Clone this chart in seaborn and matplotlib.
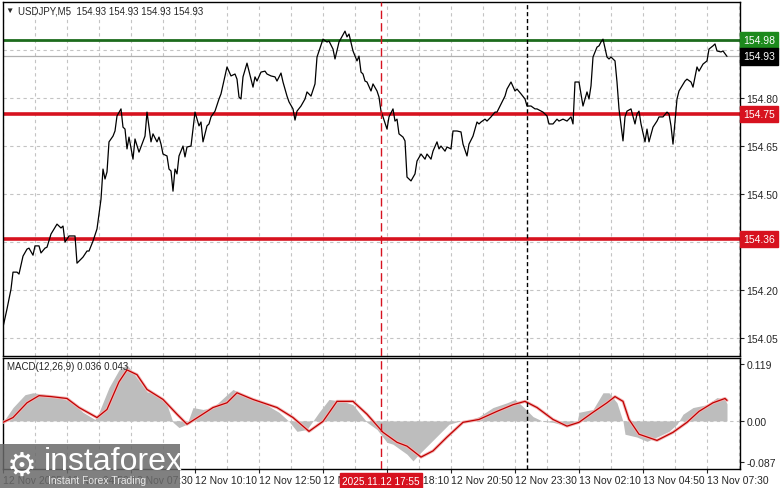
import matplotlib
matplotlib.use("Agg")
import matplotlib.pyplot as plt
import matplotlib.transforms as mtransforms
from matplotlib.patches import Rectangle
import seaborn as sns

# ---- data (x = 5-minute bar number from 12 Nov 02:10) ----
price_bar = [0, 2, 4, 5, 7, 8, 10, 12, 13, 15, 16, 18, 19, 21, 22, 24, 27, 29, 30, 31,
             33, 36, 37, 40, 42, 43, 45, 47, 48, 49, 50, 51, 52, 53, 55, 56, 57, 59, 60, 61,
             62, 63, 65, 66, 68, 71, 72, 74, 75, 77, 78, 79, 80, 82, 83, 84, 85, 86, 87, 88,
             90, 91, 92, 94, 95, 96, 98, 99, 100, 102, 103, 104, 106, 108, 109, 111, 112, 114, 116, 117,
             118, 119, 120, 122, 123, 125, 126, 127, 129, 131, 132, 134, 136, 137, 139, 140, 142, 143, 145, 146,
             147, 149, 151, 152, 154, 156, 157, 160, 162, 163, 165, 166, 168, 171, 172, 173, 175, 177, 178, 179,
             180, 181, 182, 184, 185, 187, 188, 189, 190, 192, 193, 195, 196, 197, 198, 200, 201, 202, 204, 206,
             207, 209, 211, 212, 214, 215, 217, 218, 219, 221, 222, 224, 225, 227, 229, 230, 232, 233, 235, 237,
             238, 239, 241, 242, 244, 246, 247, 249, 251, 252, 254, 256, 257, 259, 261, 262, 264, 266, 267, 270,
             272, 273, 275, 277, 278, 280, 282, 284, 285, 286, 288, 289, 290, 292, 293, 294, 295, 297, 298, 299,
             300, 302, 303, 304, 306, 307, 308, 310, 311, 312, 314, 316, 317, 318, 319, 321, 322, 323, 325, 327,
             328, 330, 332, 333, 334, 335, 337, 338, 341, 342, 344, 345, 347, 348, 350, 352, 353, 355, 356, 357,
             359, 360, 362]
price = [154.084, 154.141, 154.203, 154.256, 154.256, 154.250, 154.306, 154.328, 154.331, 154.309,
         154.338, 154.338, 154.316, 154.331, 154.334, 154.375, 154.406, 154.394, 154.400, 154.350,
         154.369, 154.369, 154.284, 154.303, 154.322, 154.322, 154.353, 154.391, 154.438, 154.484,
         154.578, 154.547, 154.569, 154.663, 154.681, 154.697, 154.744, 154.766, 154.709, 154.703,
         154.641, 154.678, 154.609, 154.672, 154.631, 154.681, 154.756, 154.663, 154.688, 154.663,
         154.678, 154.656, 154.625, 154.619, 154.578, 154.572, 154.509, 154.578, 154.563, 154.619,
         154.650, 154.616, 154.647, 154.650, 154.703, 154.756, 154.713, 154.725, 154.663, 154.713,
         154.719, 154.741, 154.759, 154.797, 154.813, 154.869, 154.897, 154.869, 154.875, 154.859,
         154.803, 154.797, 154.866, 154.909, 154.884, 154.834, 154.866, 154.853, 154.881, 154.884,
         154.875, 154.869, 154.866, 154.853, 154.878, 154.850, 154.806, 154.788, 154.766, 154.731,
         154.759, 154.775, 154.797, 154.819, 154.806, 154.844, 154.928, 154.984, 154.975, 154.978,
         154.953, 154.922, 154.975, 155.009, 154.991, 155.000, 154.947, 154.916, 154.931, 154.881,
         154.875, 154.853, 154.850, 154.822, 154.844, 154.822, 154.803, 154.759, 154.741, 154.703,
         154.741, 154.766, 154.728, 154.734, 154.688, 154.678, 154.666, 154.553, 154.541, 154.563,
         154.603, 154.625, 154.609, 154.625, 154.609, 154.634, 154.663, 154.641, 154.650, 154.634,
         154.647, 154.641, 154.697, 154.697, 154.694, 154.656, 154.619, 154.656, 154.681, 154.725,
         154.719, 154.725, 154.734, 154.728, 154.741, 154.756, 154.756, 154.781, 154.806, 154.828,
         154.850, 154.822, 154.828, 154.813, 154.797, 154.775, 154.775, 154.766, 154.766, 154.756,
         154.744, 154.719, 154.719, 154.734, 154.728, 154.734, 154.728, 154.741, 154.719, 154.850,
         154.850, 154.813, 154.775, 154.819, 154.797, 154.838, 154.928, 154.959, 154.963, 154.975,
         154.984, 154.928, 154.922, 154.928, 154.916, 154.850, 154.766, 154.666, 154.741, 154.759,
         154.766, 154.719, 154.750, 154.759, 154.719, 154.663, 154.703, 154.663, 154.709, 154.728,
         154.741, 154.741, 154.756, 154.750, 154.713, 154.656, 154.797, 154.822, 154.853, 154.859,
         154.850, 154.834, 154.897, 154.884, 154.906, 154.916, 154.953, 154.963, 154.969, 154.947,
         154.944, 154.947, 154.930]

macd_bar = [0, 5, 11, 15, 22, 28, 34, 40, 46, 48, 53, 58, 62, 67, 72, 77, 82, 85, 88, 92,
            95, 100, 105, 112, 115, 120, 130, 138, 143, 147, 152, 158, 163, 170, 175, 178, 182, 187, 192, 195,
            202, 205, 208, 213, 218, 223, 228, 234, 238, 245, 252, 256, 260, 265, 270, 275, 282, 287, 288, 295,
            300, 303, 307, 310, 311, 317, 322, 328, 333, 337, 340, 345, 352, 357, 361, 362]
macd = [-0.003, 0.028, 0.055, 0.059, 0.055, 0.049, 0.041, 0.018, 0.003, 0.018,
        0.070, 0.107, 0.118, 0.090, 0.061, 0.055, 0.034, -0.003, -0.014, -0.007,
        0.028, 0.024, 0.028, 0.055, 0.066, 0.055, 0.038, 0.018, -0.001, -0.022,
        -0.018, 0.018, 0.045, 0.041, 0.034, 0.018, -0.003, -0.018, -0.045, -0.049,
        -0.070, -0.084, -0.070, -0.049, -0.028, -0.007, -0.001, 0.003, 0.009, 0.028,
        0.038, 0.045, 0.030, 0.009, -0.001, -0.003, -0.011, -0.003, 0.018, 0.024,
        0.059, 0.059, 0.038, -0.001, -0.028, -0.034, -0.043, -0.032, -0.022, -0.007,
        0.014, 0.028, 0.034, 0.049, 0.045, 0.036]

signal_bar = [0, 5, 12, 18, 24, 32, 38, 47, 52, 58, 62, 67, 72, 80, 87, 92, 98, 105, 112, 117,
              125, 137, 145, 153, 160, 167, 175, 182, 190, 197, 202, 209, 215, 222, 230, 238, 247, 255, 261, 267,
              275, 282, 288, 295, 302, 306, 310, 313, 318, 327, 335, 342, 348, 355, 361, 362]
signal = [-0.003, 0.007, 0.038, 0.053, 0.051, 0.047, 0.028, 0.007, 0.024, 0.082,
          0.107, 0.097, 0.066, 0.045, 0.014, -0.007, 0.009, 0.028, 0.038, 0.059,
          0.045, 0.028, 0.007, -0.022, -0.001, 0.041, 0.041, 0.014, -0.024, -0.045,
          -0.053, -0.076, -0.063, -0.034, -0.003, 0.003, 0.020, 0.034, 0.041, 0.028,
          0.003, -0.011, -0.003, 0.018, 0.038, 0.051, 0.041, 0.003, -0.028, -0.041,
          -0.024, -0.003, 0.020, 0.038, 0.047, 0.043]

time_ticks = [0, 32, 64, 96, 128, 160, 192, 224, 256, 288, 320, 352]
time_labels = ["12 Nov 2025", "12 Nov 04:50", "12 Nov 07:30", "12 Nov 10:10", "12 Nov 12:50",
               "12 Nov 15:30", "12 Nov 18:10", "12 Nov 20:50", "12 Nov 23:30", "13 Nov 02:10",
               "13 Nov 04:50", "13 Nov 07:30"]
price_ticks = [154.05, 154.20, 154.35, 154.50, 154.65, 154.80, 154.95]
macd_ticks = [0.119, 0.0, -0.087]
macd_tick_labels = ["0.119", "0.00", "-0.087"]

resistance = 154.98
levels_red = [154.75, 154.36]
last_price = 154.93
marker_bar = 189          # 2025.11.12 17:55
separator_bar = 262       # 13 Nov 00:00

sns.set_style("white")
plt.rcParams['font.family'] = ['Liberation Sans', 'DejaVu Sans']
plt.rcParams['font.size'] = 7.5

W, H = 781, 489
fig = plt.figure(figsize=(W / 100, H / 100), dpi=100)
fig.patch.set_facecolor("white")
ax = fig.add_axes([3 / W, 1 - 357 / H, 737 / W, 354 / H])
ax2 = fig.add_axes([3 / W, 1 - 470 / H, 737 / W, 111 / H], sharex=ax)

grid_kw = dict(color="#c4c4c4", lw=0.8, ls=(0, (3, 3)), zorder=0)
red = "#d7121f"

# ---- price panel ----
for t in range(0, 369, 16):
    ax.axvline(t, **grid_kw)
    ax2.axvline(t, **grid_kw)
for p in price_ticks:
    ax.axhline(p, **grid_kw)

ax.axhline(last_price, color="#b0b0b0", lw=0.9, zorder=1)
ax.axhline(resistance, color="#1d6b1d", lw=2.0, zorder=2)
for lv in levels_red:
    ax.axhline(lv, color=red, lw=2.6, zorder=2)

sns.lineplot(x=price_bar, y=price, ax=ax, color="black", lw=0.9, zorder=3)

ax.axvline(marker_bar, color=red, lw=1.0, ls=(0, (6, 3)), zorder=4)
ax.axvline(separator_bar, color="black", lw=1.0, ls=(0, (3, 2)), zorder=4)

ax.set_xlim(0, 368.5)
ax.set_ylim(153.994, 155.10)
ax.yaxis.tick_right()
ax.set_yticks(price_ticks)
ax.set_yticklabels([f"{p:.2f}" for p in price_ticks])
ax.tick_params(axis="y", length=3, width=0.8, pad=1.5, right=True, direction="out", labelsize=7.5)
ax.tick_params(axis="x", bottom=False, labelbottom=False)
ax.set_xlabel("")
ax.set_ylabel("")
for s in ax.spines.values():
    s.set_color("black")
    s.set_linewidth(1.0)

tr = mtransforms.blended_transform_factory(ax.transAxes, ax.transData)
box_labels = [(resistance, "#1d8a1d"), (last_price, "black")] + [(lv, red) for lv in levels_red]
for val, col in box_labels:
    ax.text(1.004, val, f"{val:.2f}", transform=tr, ha="left", va="center", color="white",
            fontsize=7.5, zorder=10, clip_on=False,
            bbox=dict(boxstyle="square,pad=0.3", fc=col, ec=col))

ax.text(0.009, 0.985, "▼", transform=ax.transAxes, ha="center", va="top", fontsize=6)
ax.text(0.02, 0.99, "USDJPY,M5  154.93 154.93 154.93 154.93", transform=ax.transAxes,
        ha="left", va="top", fontsize=7)

# ---- MACD panel ----
ax2.axhline(0, **grid_kw)
ax2.fill_between(macd_bar, 0, macd, color="#bdbdbd", lw=0, zorder=2)
sns.lineplot(x=signal_bar, y=signal, ax=ax2, color="#f2b3b3", lw=2.2, zorder=3)
sns.lineplot(x=signal_bar, y=signal, ax=ax2, color="#c00000", lw=0.9, zorder=4)
ax2.axvline(marker_bar, color=red, lw=1.0, ls=(0, (6, 3)), zorder=5)
ax2.axvline(separator_bar, color="black", lw=1.0, ls=(0, (3, 2)), zorder=5)

ax2.set_ylim(-0.101, 0.132)
ax2.yaxis.tick_right()
ax2.set_yticks(macd_ticks)
ax2.set_yticklabels(macd_tick_labels)
ax2.tick_params(axis="y", length=3, width=0.8, pad=1.5, right=True, direction="out", labelsize=7.5)
ax2.set_xticks(time_ticks)
ax2.set_xticklabels(time_labels, ha="left")
ax2.tick_params(axis="x", length=3, width=0.8, pad=1, bottom=True, direction="out", labelsize=7.5)
ax2.set_xlabel("")
ax2.set_ylabel("")
for s in ax2.spines.values():
    s.set_color("black")
    s.set_linewidth(1.0)
ax2.text(0.006, 0.97, "MACD(12,26,9) 0.036 0.043", transform=ax2.transAxes,
         ha="left", va="top", fontsize=7)

trx = mtransforms.blended_transform_factory(ax2.transData, ax2.transAxes)
ax2.text(marker_bar, -0.06, "2025.11.12 17:55", transform=trx, ha="center", va="top",
         color="white", fontsize=7.2, zorder=10, clip_on=False,
         bbox=dict(boxstyle="square,pad=0.25", fc=red, ec=red))

# ---- watermark ----
fig.patches.append(Rectangle((0, 0), 180 / W, 44 / H, transform=fig.transFigure,
                             fc="#6a6a6a", ec="none", alpha=0.85, zorder=20))
fig.text(22 / W, 1 - 466 / H, "⚙", color="white", fontsize=24, ha="center", va="center",
         family=["DejaVu Sans"], zorder=21)
fig.text(44 / W, 1 - 462 / H, "instaforex", color="white", fontsize=23, ha="left",
         va="center", zorder=21)
fig.text(48 / W, 1 - 481 / H, "Instant Forex Trading", color="#e8e8e8", fontsize=7.5,
         ha="left", va="center", zorder=21)

fig.savefig("out.png", dpi=100)
